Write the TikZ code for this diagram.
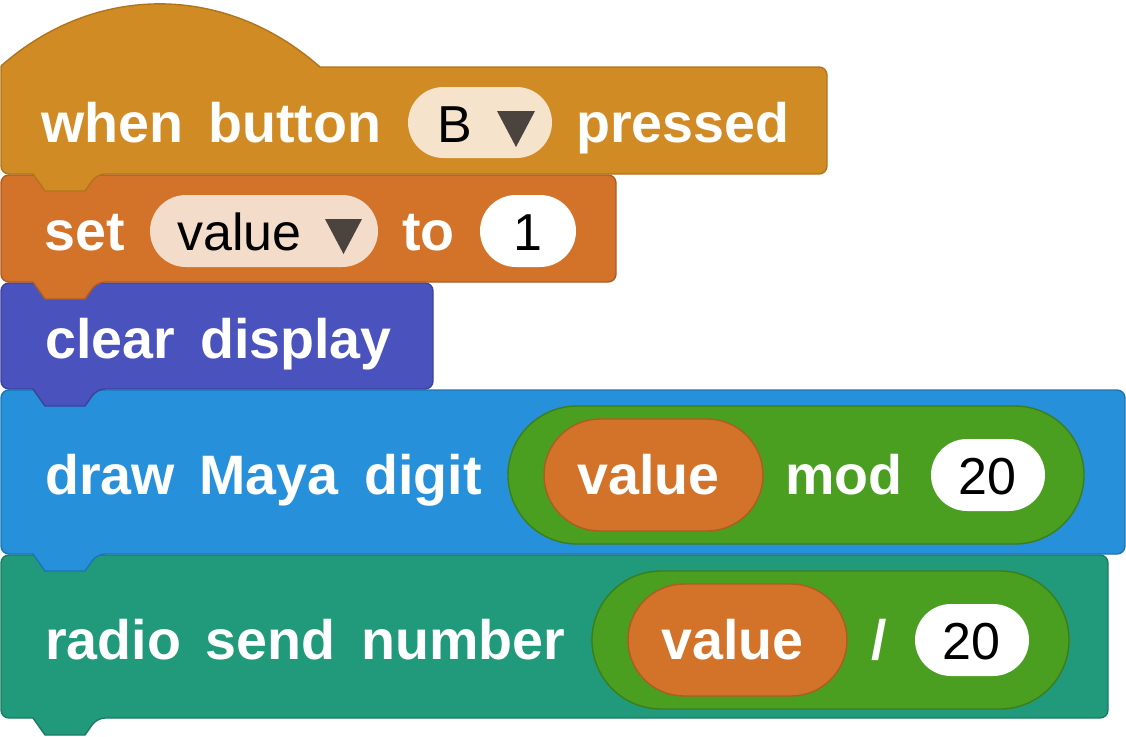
\documentclass[tikz,border=0pt]{standalone}
\usepackage{fontspec}
\setmainfont{Liberation Sans}
\definecolor{goldF}{HTML}{D18B25}
\definecolor{goldS}{HTML}{B0741E}
\definecolor{orF}{HTML}{D37229}
\definecolor{orS}{HTML}{AE5C22}
\definecolor{puF}{HTML}{4A52BD}
\definecolor{puS}{HTML}{3B429A}
\definecolor{blF}{HTML}{2690DB}
\definecolor{blS}{HTML}{1E74B0}
\definecolor{teF}{HTML}{209A7A}
\definecolor{teS}{HTML}{1A7B62}
\definecolor{grF}{HTML}{4A9E20}
\definecolor{grS}{HTML}{3B7E1A}
\definecolor{pillB}{HTML}{F5E3CC}
\definecolor{pillV}{HTML}{F4DCCB}
\definecolor{triC}{HTML}{4B433E}
\tikzset{
  lbl/.style={anchor=base west, inner sep=0pt, text=white, font=\bfseries\fontsize{55.6pt}{60pt}\selectfont},
  blk/.style={anchor=base, inner sep=0pt, text=black, font=\fontsize{52pt}{60pt}\selectfont},
  blkw/.style={anchor=base west, inner sep=0pt, text=black, font=\fontsize{52pt}{60pt}\selectfont},
  blockshape/.style={line width=1.4pt, line join=round},
  pillshape/.style={line width=1.4pt},
}
\begin{document}
\begin{tikzpicture}[x=1pt,y=-1pt]
\useasboundingbox (0,0) rectangle (1126,736);
% block 5: radio send number
\filldraw[blockshape, fill=teF, draw=teS] [rounded corners=8pt] (1,555) -- (1108,555) -- (1108,718) -- (97,718) [sharp corners] -- (85,735) -- (45,735) -- (33,718) [rounded corners=8pt] -- (1,718) -- cycle;
% block 4: draw Maya digit
\filldraw[blockshape, fill=blF, draw=blS] [rounded corners=8pt] (1,390) -- (1125,390) -- (1125,554) -- (97,554) [sharp corners] -- (85,571) -- (45,571) -- (33,554) [rounded corners=8pt] -- (1,554) -- cycle;
% block 3: clear display
\filldraw[blockshape, fill=puF, draw=puS] [rounded corners=8pt] (1,283) -- (433,283) -- (433,389) -- (97,389) [sharp corners] -- (85,406) -- (45,406) -- (33,389) [rounded corners=8pt] -- (1,389) -- cycle;
% block 2: set value to 1
\filldraw[blockshape, fill=orF, draw=orS] [rounded corners=8pt] (1,175) -- (616,175) -- (616,282) -- (97,282) [sharp corners] -- (85,299) -- (45,299) -- (33,282) [rounded corners=8pt] -- (1,282) -- cycle;
% block 1: hat
\filldraw[blockshape, fill=goldF, draw=goldS] (1,66) .. controls (95,-17) and (225,-17) .. (320,67) [rounded corners=8pt] -- (827,67) -- (827,174) -- (97,174) [sharp corners] -- (85,191) -- (45,191) -- (33,174) [rounded corners=8pt] -- (1,174) -- (1,66);
% --- block 1 content
\node[lbl] (when) at (41,142) {when};
\node[lbl] (button) at (208,142) {button};
\fill[pillB, rounded corners=35.5pt] (408,87) rectangle (552,158);
\node[blkw] (bval) at (437,142) {B};
\fill[triC] (497,111) -- (535,111) -- (516,147) -- cycle;
\node[lbl] (pressed) at (576,142) {pressed};
% --- block 2 content
\node[lbl] (set) at (44,250) {set};
\fill[pillV, rounded corners=36pt] (150,195) rectangle (378,267);
\node[blkw] (varname) at (177,250) {value};
\fill[triC] (325,219) -- (362,219) -- (343.5,254) -- cycle;
\node[lbl] (to) at (402,250) {to};
\fill[white, rounded corners=36pt] (480,195) rectangle (576,267);
\node[blk] (one) at (528,250) {1};
% --- block 3 content
\node[lbl] (clear) at (45,358) {clear};
\node[lbl] (display) at (200,358) {display};
% --- block 4 content
\node[lbl] (draw) at (45,494) {draw};
\node[lbl] (maya) at (199,494) {Maya};
\node[lbl] (digit) at (364,494) {digit};
\filldraw[pillshape, fill=grF, draw=grS, rounded corners=69pt] (508,406) rectangle (1084,544);
\filldraw[pillshape, fill=orF, draw=orS, rounded corners=56pt] (544,419) rectangle (763,531);
\node[lbl] (v1) at (577,494) {value};
\node[lbl] (mod) at (785,494) {mod};
\fill[white, rounded corners=36pt] (931,439) rectangle (1045,511);
\node[blk] (n20a) at (987,494) {20};
% --- block 5 content
\node[lbl] (radio) at (45,659) {radio};
\node[lbl] (send) at (205,659) {send};
\node[lbl] (number) at (361,659) {number};
\filldraw[pillshape, fill=grF, draw=grS, rounded corners=69pt] (592,571) rectangle (1069,709);
\filldraw[pillshape, fill=orF, draw=orS, rounded corners=56pt] (628,584) rectangle (847,696);
\node[lbl] (v2) at (661,659) {value};
\node[lbl] (slash) at (871,659) {/};
\fill[white, rounded corners=36pt] (915,604) rectangle (1029,676);
\node[blk] (n20b) at (971,659) {20};
\end{tikzpicture}
\end{document}
